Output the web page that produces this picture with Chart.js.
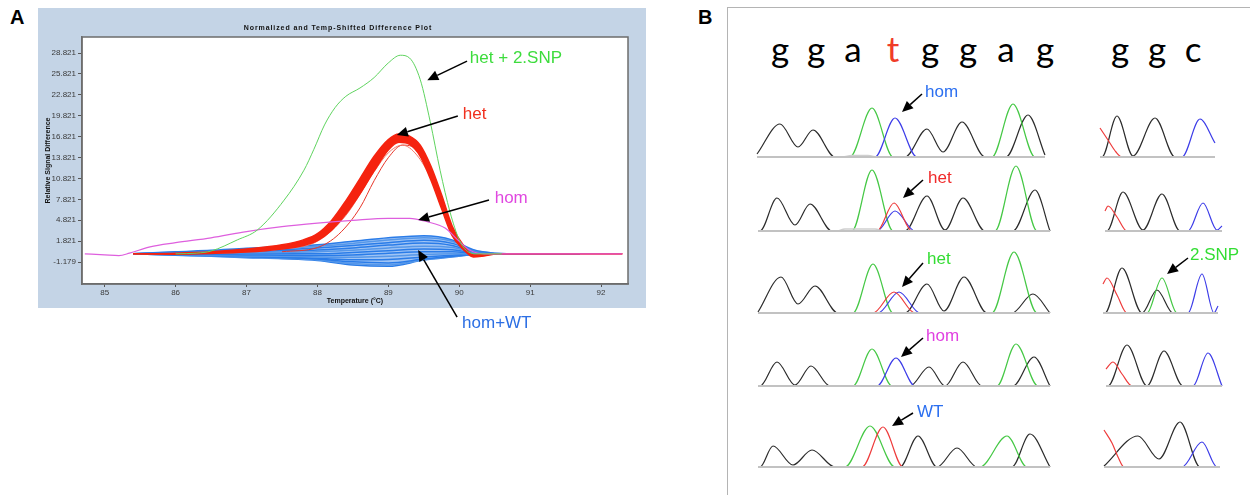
<!DOCTYPE html>
<html lang="en">
<head>
<meta charset="utf-8">
<title>HRM difference plot and Sanger traces</title>
<script src="https://cdn.jsdelivr.net/npm/chart.js@4.4.1/dist/chart.umd.min.js"></script>
<style>
  html, body { margin: 0; padding: 0; background: #fff; }
  body { width: 1250px; height: 495px; position: relative; overflow: hidden;
         font-family: "Liberation Sans", Arial, sans-serif; }
  .tag { position: absolute; font-weight: bold; font-size: 20px; line-height: 20px; color: #000; }
  #meltBox { position: absolute; left: 38px; top: 8px; }
  #traceFrame { position: absolute; left: 727px; top: 7px; width: 540px; height: 500px;
                border-left: 1px solid #b4b4b4; border-top: 1px solid #b4b4b4; }
  .base { position: absolute; top: 31px; font-family: Lato, "DejaVu Sans", sans-serif;
          font-size: 35px; line-height: 35px; transform: translateX(-50%); color: #000; }
  .row { position: absolute; left: 750px; }
</style>
</head>
<body>
<div class="tag" style="left:10px;top:7px">A</div>
<div class="tag" style="left:698px;top:7px">B</div>

<div id="meltBox"><canvas id="meltChart" width="608" height="340"></canvas></div>

<div id="traceFrame"></div>
<div id="seqLine"></div>
<canvas class="row" id="row1" width="500" height="85" style="top:77px"></canvas>
<canvas class="row" id="row2" width="500" height="85" style="top:151px"></canvas>
<canvas class="row" id="row3" width="500" height="85" style="top:233px"></canvas>
<canvas class="row" id="row4" width="500" height="85" style="top:306px"></canvas>
<canvas class="row" id="row5" width="500" height="85" style="top:387px"></canvas>

<script>
// ---------------- Panel A: normalized, temperature-shifted difference curves ----------------
const plotTitle = 'Normalized and Temp-Shifted Difference Plot';
const xTicks = [85, 86, 87, 88, 89, 90, 91, 92];
const yTicks = [-1.179, 1.821, 4.821, 7.821, 10.821, 13.821, 16.821, 19.821, 22.821, 25.821, 28.821];

// het + 2nd SNP sample
const hetSnpTemp   = [86.0, 86.3, 86.5, 86.87, 87.15, 87.53, 87.81, 87.95, 88.1, 88.25, 88.4, 88.6, 88.8, 89.0, 89.17, 89.3, 89.45, 89.59, 89.73, 89.87, 90.0, 90.1, 90.25, 90.6];
const hetSnpSignal = [0, 0.1, 0.4, 2.0, 3.4, 7.7, 12.0, 15.0, 18.5, 21.0, 22.6, 23.8, 25.3, 27.4, 28.5, 28.1, 25.0, 19.0, 12.0, 6.0, 2.0, 0.5, 0, 0];

// heterozygous cluster: upper and lower edge of the dense band, plus two outlying curves
const hetTemp  = [85.4, 86.0, 86.5, 87.0, 87.5, 87.8, 88.0, 88.2, 88.4, 88.6, 88.8, 89.0, 89.15, 89.3, 89.45, 89.6, 89.75, 89.9, 90.06, 90.2, 90.35, 90.55, 92.3];
const hetUpper = [0, 0.1, 0.3, 0.7, 1.3, 2.0, 2.9, 4.8, 7.6, 10.8, 14.0, 16.4, 17.2, 16.9, 15.6, 12.6, 8.5, 4.0, 1.2, -0.15, -0.1, 0, 0];
const hetLower = [0, -0.05, 0.05, 0.25, 0.7, 1.2, 1.9, 3.4, 5.7, 8.6, 11.9, 14.9, 16.0, 15.7, 14.0, 10.6, 6.5, 2.6, 0.6, -0.45, -0.3, 0, 0];
const hetLowTemp   = [86.5, 87.0, 87.5, 88.0, 88.4, 88.8, 89.0, 89.2, 89.4, 89.6, 89.8, 90.0, 90.2, 90.5];
const hetLowSignal = [0.1, 0.3, 0.7, 1.8, 5.5, 11.8, 14.5, 15.6, 14.2, 10.8, 5.6, 1.4, -0.2, 0];
const hetLateTemp   = [87.5, 88.0, 88.3, 88.6, 88.8, 89.0, 89.2, 89.4, 89.6, 89.8, 90.0, 90.2, 90.5];
const hetLateSignal = [0.3, 0.9, 2.8, 6.6, 10.5, 13.8, 15.6, 15.0, 11.9, 6.4, 1.6, -0.2, 0];

// homozygous mutant
const homTemp   = [84.72, 85.0, 85.2, 85.35, 85.64, 86.0, 86.5, 87.0, 87.5, 88.0, 88.5, 89.0, 89.3, 89.55, 89.8, 90.0, 90.15, 90.35, 92.3];
const homSignal = [0, -0.15, -0.25, 0.1, 1.0, 1.6, 2.3, 3.2, 3.9, 4.4, 4.8, 5.1, 5.1, 4.6, 3.7, 1.8, 0.5, 0, 0];

// hom + WT cluster
const homWtTemp = [85.4, 86.0, 86.5, 87.0, 87.5, 88.0, 88.5, 89.0, 89.5, 89.9, 90.2, 90.5, 90.9, 91.7];
const homWt1  = [0, 0.3, 0.5, 0.8, 1.0, 1.3, 1.8, 2.3, 2.6, 2.0, 0.6, 0.1, 0, 0];
const homWt2  = [0, 0.25, 0.4, 0.65, 0.8, 1.1, 1.5, 2.0, 2.3, 1.8, 0.5, 0.1, 0, 0];
const homWt3  = [0, 0.2, 0.3, 0.5, 0.6, 0.85, 1.2, 1.6, 1.95, 1.5, 0.4, 0, 0, 0];
const homWt4  = [0, 0.15, 0.2, 0.35, 0.45, 0.55, 0.85, 1.25, 1.55, 1.2, 0.3, 0, 0, 0];
const homWt5  = [0, 0.1, 0.1, 0.15, 0.2, 0.3, 0.5, 0.85, 1.1, 0.9, 0.2, 0, 0, 0];
const homWt6  = [0, 0.05, 0, 0, 0, 0, 0.2, 0.45, 0.7, 0.6, 0.15, 0, 0, 0];
const homWt7  = [0, 0, -0.1, -0.15, -0.2, -0.25, -0.15, 0.1, 0.3, 0.3, 0.1, 0, 0, 0];
const homWt8  = [0, -0.05, -0.2, -0.3, -0.35, -0.45, -0.5, -0.35, -0.1, 0, 0, 0, 0, 0];
const homWt9  = [0, -0.1, -0.25, -0.4, -0.5, -0.65, -0.85, -0.8, -0.45, -0.2, -0.05, 0, 0, 0];
const homWt10 = [0, -0.15, -0.28, -0.42, -0.55, -0.75, -1.15, -1.3, -0.75, -0.35, -0.1, 0, 0, 0];
const homWt11 = [0, -0.18, -0.3, -0.5, -0.62, -0.85, -1.4, -1.6, -0.85, -0.4, -0.12, 0, 0, 0];
const homWt12 = [0, -0.2, -0.35, -0.55, -0.7, -0.95, -1.6, -1.8, -0.9, -0.45, -0.15, 0, 0, 0];

// callouts: label anchor, arrow tail and arrow tip in (°C, signal)
const meltNotes = [
  { text: 'het + 2.SNP', color: '#3ddc3d', at: [90.15, 28.1], from: [90.11, 27.66], to: [89.55, 24.93] },
  { text: 'het',         color: '#f0301e', at: [90.05, 20.05], from: [89.98, 19.77], to: [89.12, 17.04] },
  { text: 'hom',         color: '#e048e0', at: [90.5, 8.0],   from: [90.42, 7.72],  to: [89.42, 4.85] },
  { text: 'hom+WT',      color: '#2c6fe4', at: [90.04, -9.93], from: [89.97, -9.07], to: [89.42, 0.54] }
];

// ---------------- Panel B: sequencing traces, [position, intensity] ----------------
const seqLetters = ['g', 'g', 'a', 't', 'g', 'g', 'a', 'g', 'g', 'g', 'c'];

const r1LeftBase  = [[7, 0], [295, 0]];
const r1LeftBump  = [[93, 0], [102, 1.5], [118, 1.5], [126, 0]];
const r1LeftBlack = [[7, 3], [30, 33], [48, 10], [63, 27], [85, 0], [155, 0], [177, 28], [193, 5], [212, 35], [235, 0], [256, 0], [278, 42], [295, 2]];
const r1LeftGreen = [[7, 0], [100, 0], [122, 49], [143, 0], [242, 0], [263, 53], [285, 0], [295, 0]];
const r1LeftBlue  = [[7, 0], [125, 0], [145, 39], [167, 0], [295, 0]];
const r1RightBase  = [[350, 0], [465, 0]];
const r1RightRed   = [[350, 29], [358, 17], [366, 5], [372, 0], [465, 0]];
const r1RightBlack = [[350, 0], [352, 0], [367, 41], [383, 1], [405, 39], [425, 0], [465, 0]];
const r1RightBlue  = [[350, 0], [432, 0], [450, 38], [465, 14]];

const r2LeftBase  = [[8, 0], [300, 0]];
const r2LeftBump  = [[88, 0], [95, 2], [125, 2], [132, 0]];
const r2LeftBlack = [[8, 0], [10, 0], [27, 33], [45, 6], [60, 27], [82, 0], [155, 0], [177, 35], [195, 1], [213, 33], [235, 0], [263, 0], [285, 41], [300, 0]];
const r2LeftGreen = [[8, 0], [102, 0], [122, 61], [143, 0], [245, 0], [266, 65], [287, 0], [300, 0]];
const r2LeftRed   = [[8, 0], [127, 0], [144, 28], [162, 0], [300, 0]];
const r2LeftBlue  = [[8, 0], [127, 0], [145, 20], [165, 0], [300, 0]];
const r2RightBase  = [[355, 0], [472, 0]];
const r2RightRed   = [[355, 20], [358, 25], [367, 14], [377, 0], [472, 0]];
const r2RightBlack = [[355, 0], [357, 0], [373, 39], [393, 1], [412, 37], [430, 0], [472, 0]];
const r2RightBlue  = [[355, 0], [438, 0], [453, 28], [467, 1], [472, 5]];

const r3LeftBase  = [[8, 0], [300, 0]];
const r3LeftBlack = [[8, 1], [31, 36], [48, 9], [65, 27], [88, 0], [155, 0], [177, 29], [194, 2], [214, 36], [237, 0], [262, 0], [283, 19], [300, 0]];
const r3LeftGreen = [[8, 0], [103, 0], [123, 49], [143, 0], [242, 0], [264, 61], [287, 0], [300, 0]];
const r3LeftRed   = [[8, 0], [123, 0], [144, 21], [165, 0], [300, 0]];
const r3LeftBlue  = [[8, 0], [128, 0], [149, 21], [170, 0], [300, 0]];
const r3RightBase  = [[353, 0], [468, 0]];
const r3RightRed   = [[353, 29], [357, 35], [367, 18], [377, 0], [468, 0]];
const r3RightBlack = [[353, 0], [355, 0], [372, 45], [392, 0], [407, 23], [423, 0], [468, 0]];
const r3RightGreen = [[353, 0], [397, 0], [412, 35], [427, 0], [468, 0]];
const r3RightBlue  = [[353, 0], [438, 0], [452, 39], [464, 0], [468, 7]];

const r4LeftBase  = [[8, 0], [300, 0]];
const r4LeftBlack = [[8, 0], [10, 0], [27, 24], [45, 1], [61, 20], [80, 0], [160, 0], [179, 19], [195, 0], [213, 24], [232, 0], [263, 0], [284, 29], [300, 0]];
const r4LeftGreen = [[8, 0], [103, 0], [122, 37], [142, 0], [247, 0], [266, 42], [288, 0], [300, 0]];
const r4LeftBlue  = [[8, 0], [127, 0], [146, 28], [165, 0], [300, 0]];
const r4RightBase  = [[356, 0], [472, 0]];
const r4RightRed   = [[356, 17], [363, 24], [372, 12], [382, 0], [472, 0]];
const r4RightBlack = [[356, 0], [358, 0], [377, 41], [397, 0], [414, 35], [433, 0], [472, 0]];
const r4RightBlue  = [[356, 0], [443, 0], [458, 33], [472, 0]];

const r5LeftBase  = [[8, 0], [300, 0]];
const r5LeftBlack = [[8, 0], [10, 0], [23, 21], [43, 2], [62, 17], [85, 0], [150, 0], [168, 31], [187, 0], [207, 19], [227, 0], [262, 0], [280, 33], [300, 0]];
const r5LeftGreen = [[8, 0], [95, 0], [120, 41], [145, 0], [230, 0], [257, 31], [277, 0], [300, 0]];
const r5LeftRed   = [[8, 0], [112, 0], [133, 40], [153, 0], [300, 0]];
const r5RightBase  = [[354, 0], [470, 0]];
const r5RightRed   = [[354, 37], [362, 24], [368, 10], [374, 0], [470, 0]];
const r5RightBlack = [[354, 1], [388, 31], [409, 8], [430, 45], [450, 0], [470, 0]];
const r5RightBlue  = [[354, 0], [432, 0], [452, 25], [467, 0], [470, 0]];

// callouts per trace row: label anchor, arrow tail and arrow tip in (position, intensity)
const traceNotes = [
  [ { text: 'hom', color: '#2b6ff0', at: [175, 65], from: [172, 63], to: [152, 45] } ],
  [ { text: 'het', color: '#f02a2a', at: [178, 53], from: [173, 51], to: [153, 33] } ],
  [ { text: 'het', color: '#33dd33', at: [177, 54], from: [173, 50], to: [152, 26] },
    { text: '2.SNP', color: '#33dd33', at: [440, 58], from: [438, 55], to: [417, 39] } ],
  [ { text: 'hom', color: '#e040e0', at: [176, 50], from: [173, 48], to: [151, 29] } ],
  [ { text: 'WT',  color: '#2b6ff0', at: [167, 55], from: [163, 54], to: [142, 41] } ]
];

// ---------------- helpers ----------------
const FONT = '"Liberation Sans", Arial, sans-serif';
const zipXY = (xs, ys) => xs.map((x, i) => ({ x, y: ys[i] }));
const pairs = arr => arr.map(p => ({ x: p[0], y: p[1] }));

function drawArrow(ctx, x0, y0, x1, y1) {
  const a = Math.atan2(y1 - y0, x1 - x0);
  const head = 11, half = 5;
  const bx = x1 - head * Math.cos(a), by = y1 - head * Math.sin(a);
  ctx.beginPath();
  ctx.moveTo(x0, y0);
  ctx.lineTo(bx, by);
  ctx.stroke();
  ctx.beginPath();
  ctx.moveTo(x1, y1);
  ctx.lineTo(bx + half * Math.sin(a), by - half * Math.cos(a));
  ctx.lineTo(bx - half * Math.sin(a), by + half * Math.cos(a));
  ctx.closePath();
  ctx.fill();
}

function drawNotes(chart, notes) {
  const { ctx, scales: { x, y } } = chart;
  ctx.save();
  ctx.strokeStyle = '#000';
  ctx.fillStyle = '#000';
  ctx.lineWidth = 1.5;
  notes.forEach(n => {
    drawArrow(ctx, x.getPixelForValue(n.from[0]), y.getPixelForValue(n.from[1]),
                   x.getPixelForValue(n.to[0]), y.getPixelForValue(n.to[1]));
  });
  ctx.font = '17px ' + FONT;
  ctx.textAlign = 'left';
  ctx.textBaseline = 'middle';
  notes.forEach(n => {
    ctx.fillStyle = n.color;
    ctx.fillText(n.text, x.getPixelForValue(n.at[0]), y.getPixelForValue(n.at[1]));
  });
  ctx.restore();
}

// ---------------- Panel A chart ----------------
const panelBackdrop = {
  id: 'panelBackdrop',
  beforeDraw(chart) {
    const { ctx, chartArea: a } = chart;
    ctx.save();
    ctx.fillStyle = '#c4d4e6';
    ctx.fillRect(0, 0, chart.width, a.bottom + 24);
    ctx.fillStyle = '#ffffff';
    ctx.fillRect(a.left, a.top, a.right - a.left, a.bottom - a.top);
    ctx.restore();
  },
  afterDatasetsDraw(chart) {
    const { ctx, chartArea: a } = chart;
    ctx.save();
    ctx.strokeStyle = '#6c6c6c';
    ctx.lineWidth = 1.5;
    ctx.strokeRect(a.left, a.top, a.right - a.left, a.bottom - a.top);
    ctx.font = 'bold 7px ' + FONT;
    ctx.letterSpacing = '0.9px';
    ctx.fillStyle = '#111';
    ctx.textAlign = 'center';
    ctx.textBaseline = 'middle';
    ctx.fillText(plotTitle, 300, 20);
    ctx.restore();
  },
  afterDraw(chart) { drawNotes(chart, meltNotes); }
};

const homWtSets = [homWt1, homWt2, homWt3, homWt4, homWt5, homWt6, homWt7, homWt8, homWt9, homWt10, homWt11, homWt12];
const datasetsA = [
  { data: zipXY(hetSnpTemp, hetSnpSignal), borderColor: '#5fd45f', borderWidth: 1, order: 1 },
  { data: zipXY(homTemp, homSignal), borderColor: '#de5fde', borderWidth: 1.2, order: 2 },
  { data: zipXY(hetTemp, hetUpper), borderColor: '#f5230f', backgroundColor: '#f5230f', borderWidth: 1.5, fill: '+1', order: 3 },
  { data: zipXY(hetTemp, hetLower), borderColor: '#f5230f', borderWidth: 1.5, order: 3 },
  { data: zipXY(hetLowTemp, hetLowSignal), borderColor: '#f27a6c', borderWidth: 1, order: 4 },
  { data: zipXY(hetLateTemp, hetLateSignal), borderColor: '#e8372a', borderWidth: 1, order: 4 },
  ...homWtSets.map((vals, i) => ({
    data: zipXY(homWtTemp, vals),
    borderColor: i % 3 === 1 ? '#78aeea' : '#2a7ce8',
    backgroundColor: 'rgba(42,124,232,0.45)',
    fill: i === 0 ? '+11' : false,
    borderWidth: 1.5,
    order: 5
  }))
];

new Chart(document.getElementById('meltChart'), {
  type: 'line',
  data: { datasets: datasetsA },
  options: {
    responsive: false,
    animation: false,
    layout: { padding: { top: 29, right: 18, left: 0, bottom: 40 } },
    plugins: { legend: { display: false }, tooltip: { enabled: false } },
    elements: { point: { radius: 0 }, line: { cubicInterpolationMode: 'monotone' } },
    scales: {
      x: {
        type: 'linear', min: 84.68, max: 92.38,
        afterBuildTicks: s => { s.ticks = xTicks.map(v => ({ value: v })); },
        afterFit: s => { s.height = 24; },
        ticks: { autoSkip: false, maxRotation: 0, padding: 1, color: '#3a3a3a',
                 font: { size: 8, family: FONT } },
        grid: { drawOnChartArea: false, drawTicks: true, tickLength: 3, color: '#555' },
        border: { display: true, color: '#6c6c6c', width: 1.5 },
        title: { display: true, text: 'Temperature (°C)', color: '#111',
                 font: { size: 7, weight: 'bold', family: FONT }, padding: { top: 0, bottom: 2.8 } }
      },
      y: {
        type: 'linear', min: -4.33, max: 31.12,
        afterBuildTicks: s => { s.ticks = yTicks.map(v => ({ value: v })); },
        afterFit: s => { s.width = 44; },
        ticks: { autoSkip: false, padding: 2, color: '#3a3a3a',
                 font: { size: 8, family: FONT }, callback: v => v.toFixed(3) },
        grid: { drawOnChartArea: false, drawTicks: true, tickLength: 4, color: '#555' },
        border: { display: true, color: '#6c6c6c', width: 1.5 },
        title: { display: true, text: 'Relative Signal Difference', color: '#111',
                 font: { size: 7, weight: 'bold', family: FONT }, padding: { top: 5.8, bottom: 0 } }
      }
    }
  },
  plugins: [panelBackdrop]
});

// ---------------- Panel B: base calls ----------------
const seqX = [780, 816, 853, 893, 930, 968, 1006, 1045, 1120, 1157, 1193];
const seqBox = document.getElementById('seqLine');
seqLetters.forEach((ch, i) => {
  const s = document.createElement('span');
  s.className = 'base';
  s.textContent = ch;
  s.style.left = seqX[i] + 'px';
  if (ch === 't') s.style.color = '#f03c28';
  seqBox.appendChild(s);
});

// ---------------- Panel B: trace rows ----------------
const TRACE = { base: '#c2c2c2', bump: '#cfcfcf', black: '#2b2b2b', green: '#45c845', red: '#ee3b3b', blue: '#3c3ce8' };
const rowTraces = [
  [[r1LeftBase, r1RightBase], [r1LeftBump], { black: [r1LeftBlack, r1RightBlack], green: [r1LeftGreen], red: [r1RightRed], blue: [r1LeftBlue, r1RightBlue] }],
  [[r2LeftBase, r2RightBase], [r2LeftBump], { black: [r2LeftBlack, r2RightBlack], green: [r2LeftGreen], red: [r2LeftRed, r2RightRed], blue: [r2LeftBlue, r2RightBlue] }],
  [[r3LeftBase, r3RightBase], [], { black: [r3LeftBlack, r3RightBlack], green: [r3LeftGreen, r3RightGreen], red: [r3LeftRed, r3RightRed], blue: [r3LeftBlue, r3RightBlue] }],
  [[r4LeftBase, r4RightBase], [], { black: [r4LeftBlack, r4RightBlack], green: [r4LeftGreen], red: [r4RightRed], blue: [r4LeftBlue, r4RightBlue] }],
  [[r5LeftBase, r5RightBase], [], { black: [r5LeftBlack, r5RightBlack], green: [r5LeftGreen], red: [r5LeftRed, r5RightRed], blue: [r5RightBlue] }]
];

rowTraces.forEach(([bases, bumps, colours], r) => {
  const datasets = [];
  // baseline strip sits on top so flat trace sections merge into it
  bases.forEach(b => datasets.push({ data: pairs(b), borderColor: TRACE.base, borderWidth: 2.2 }));
  bumps.forEach(b => datasets.push({ data: pairs(b), borderColor: TRACE.bump, borderWidth: 1.4 }));
  ['red', 'blue', 'green', 'black'].forEach(c => {
    (colours[c] || []).forEach(t => datasets.push({ data: pairs(t), borderColor: TRACE[c], borderWidth: 1.2 }));
  });
  const notes = traceNotes[r];
  new Chart(document.getElementById('row' + (r + 1)), {
    type: 'line',
    data: { datasets },
    options: {
      responsive: false,
      animation: false,
      layout: { padding: 0 },
      plugins: { legend: { display: false }, tooltip: { enabled: false } },
      elements: { point: { radius: 0 }, line: { cubicInterpolationMode: 'monotone' } },
      scales: {
        x: { type: 'linear', display: false, min: 0, max: 500 },
        y: { type: 'linear', display: false, min: -5, max: 80 }
      }
    },
    plugins: [{ id: 'traceNotes', afterDraw(chart) { drawNotes(chart, notes); } }]
  });
});
</script>
</body>
</html>
